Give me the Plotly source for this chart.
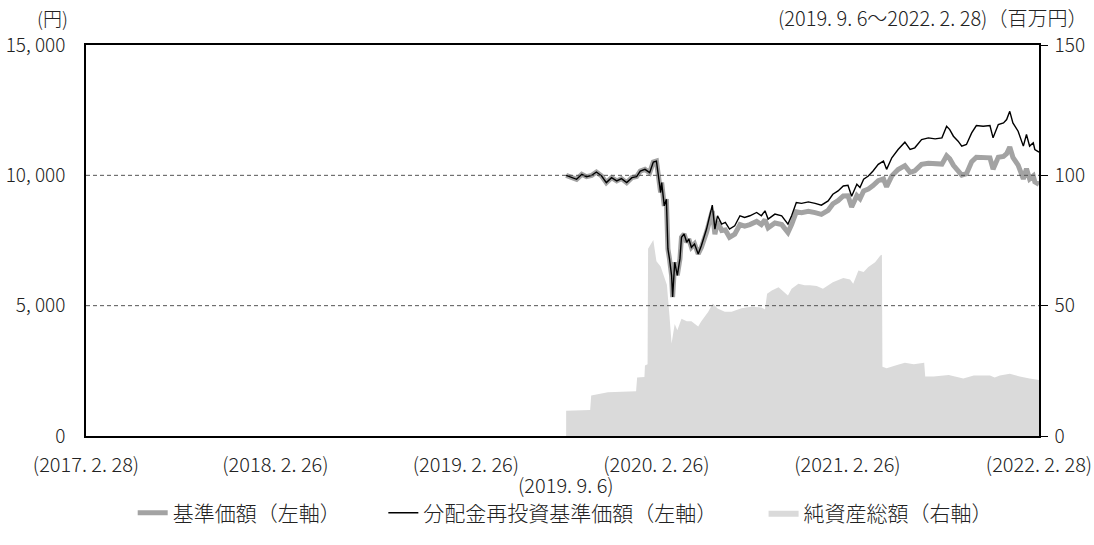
import plotly.graph_objects as go

# 基準価額 / 分配金再投資基準価額 (円)
nav_dates = [
    "2019-09-06", "2019-09-26", "2019-10-06", "2019-10-15", "2019-10-25", "2019-11-03",
    "2019-11-13", "2019-11-22", "2019-12-02", "2019-12-12", "2019-12-21", "2019-12-31",
    "2020-01-10", "2020-01-19", "2020-01-26", "2020-02-04", "2020-02-13", "2020-02-20",
    "2020-02-26", "2020-03-01", "2020-03-05", "2020-03-07", "2020-03-12", "2020-03-16",
    "2020-03-19", "2020-03-22", "2020-03-26", "2020-03-28", "2020-04-01", "2020-04-06",
    "2020-04-11", "2020-04-14", "2020-04-19", "2020-04-24", "2020-04-28", "2020-05-03",
    "2020-05-09", "2020-05-16", "2020-05-22", "2020-06-01", "2020-06-07", "2020-06-12",
    "2020-06-17", "2020-06-22", "2020-06-30", "2020-07-07", "2020-07-15", "2020-07-25",
    "2020-08-04", "2020-08-13", "2020-08-23", "2020-09-05", "2020-09-14", "2020-09-21",
    "2020-09-27", "2020-10-10", "2020-10-23", "2020-11-04", "2020-11-11", "2020-11-20",
    "2020-11-30", "2020-12-13", "2020-12-26", "2021-01-07", "2021-01-20", "2021-01-29",
    "2021-02-08", "2021-02-18", "2021-02-27", "2021-03-06", "2021-03-16", "2021-03-22",
    "2021-03-29", "2021-04-07", "2021-04-16", "2021-04-26", "2021-05-06", "2021-05-12",
    "2021-05-22", "2021-06-03", "2021-06-16", "2021-06-26", "2021-07-05", "2021-07-18",
    "2021-07-31", "2021-08-13", "2021-08-26", "2021-09-04", "2021-09-10", "2021-09-17",
    "2021-09-26", "2021-10-03", "2021-10-12", "2021-10-22", "2021-10-31", "2021-11-13",
    "2021-11-26", "2021-12-02", "2021-12-12", "2021-12-22", "2021-12-28", "2022-01-03",
    "2022-01-09", "2022-01-19", "2022-01-29", "2022-02-04", "2022-02-10", "2022-02-17",
    "2022-02-20", "2022-02-28",
]

nav_reinvested = [
    10000, 9848, 10039, 9950, 10000, 10127,
    9975, 9720, 9912, 9785, 9874, 9720,
    9912, 9950, 10165, 10229, 10102, 10508,
    10547, 9975, 9340, 9720, 8829, 9085,
    7176, 6794, 6158, 5332, 6667, 6158,
    6794, 7622, 7748, 7430, 7557, 7240,
    7367, 6985, 7302, 7939, 8448, 8855,
    7939, 8448, 8130, 8193, 7939, 8066,
    8448, 8384, 8448, 8575, 8448, 8638,
    8321, 8512, 8448, 8130, 8448, 8957,
    8925, 8982, 8925, 8855, 9020, 9275,
    9402, 9593, 9619, 9200, 9657, 9530,
    9848, 9975, 10165, 10420, 10547, 10229,
    10674, 10992, 11272, 10992, 11056, 11374,
    11438, 11400, 11438, 11883, 11756, 11501,
    11310, 11120, 11183, 11628, 11909, 11883,
    11909, 11438, 11947, 12012, 12138, 12456,
    12012, 11693, 11120, 11565, 11120, 11247,
    10992, 10890,
]

nav_base = [
    10000, 9848, 10039, 9950, 10000, 10127,
    9975, 9720, 9912, 9785, 9874, 9720,
    9912, 9950, 10165, 10229, 10102, 10508,
    10547, 9975, 9340, 9720, 8829, 9085,
    7176, 6794, 6158, 5332, 6667, 6158,
    6794, 7622, 7748, 7430, 7557, 7240,
    7367, 6985, 7229, 7820, 8237, 8634,
    7741, 8237, 7886, 7906, 7621, 7743,
    8110, 8049, 8110, 8232, 8110, 8292,
    7988, 8172, 8110, 7805, 8110, 8599,
    8568, 8623, 8568, 8501, 8659, 8904,
    9026, 9209, 9215, 8786, 9222, 9101,
    9405, 9476, 9606, 9795, 9861, 9564,
    9980, 10223, 10370, 10113, 10172, 10420,
    10466, 10431, 10431, 10754, 10639, 10385,
    10179, 10008, 10065, 10520, 10694, 10659,
    10670, 10237, 10693, 10727, 10827, 11086,
    10691, 10395, 9863, 10258, 9863, 9976,
    9750, 9660,
]

# 純資産総額 (百万円)
asset_dates = [
    "2019-09-06", "2019-10-22", "2019-10-24", "2019-11-25", "2020-01-18", "2020-01-20",
    "2020-02-03", "2020-02-04", "2020-02-09", "2020-02-10", "2020-02-20", "2020-02-26",
    "2020-03-05", "2020-03-12", "2020-03-17", "2020-03-22", "2020-03-26", "2020-04-01",
    "2020-04-06", "2020-04-14", "2020-04-24", "2020-05-03", "2020-05-16", "2020-05-22",
    "2020-06-04", "2020-06-13", "2020-06-22", "2020-07-06", "2020-07-19", "2020-08-07",
    "2020-08-26", "2020-09-14", "2020-09-21", "2020-09-25", "2020-10-04", "2020-10-17",
    "2020-10-29", "2020-11-04", "2020-11-11", "2020-11-24", "2020-12-06", "2020-12-16",
    "2020-12-29", "2021-01-10", "2021-01-29", "2021-02-18", "2021-03-03", "2021-03-09",
    "2021-03-19", "2021-03-29", "2021-04-07", "2021-04-20", "2021-04-30", "2021-05-03",
    "2021-05-04", "2021-05-12", "2021-06-01", "2021-06-16", "2021-07-03", "2021-07-23",
    "2021-07-25", "2021-08-10", "2021-09-08", "2021-10-06", "2021-10-26", "2021-11-26",
    "2021-12-05", "2021-12-15", "2022-01-03", "2022-01-22", "2022-02-10", "2022-02-28",
]

net_assets = [
    9.7, 10.0, 15.5, 16.8, 17.2, 22.4,
    22.6, 27.0, 27.5, 71.8, 75.2, 67.0,
    65.0, 61.0, 58.0, 46.0, 35.5, 43.0,
    40.6, 45.0, 44.0, 44.0, 42.0, 44.0,
    47.6, 50.8, 48.9, 47.7, 47.7, 49.0,
    49.6, 49.3, 48.5, 54.6, 55.8, 57.1,
    55.2, 53.9, 56.5, 58.4, 57.8, 57.8,
    57.5, 56.5, 59.0, 60.6, 60.0, 58.4,
    63.5, 62.9, 64.8, 66.7, 69.2, 69.5,
    26.6, 26.0, 27.2, 28.1, 27.5, 28.1,
    22.8, 22.8, 23.4, 22.1, 23.2, 23.2,
    22.4, 23.2, 23.9, 22.8, 22.1, 21.5,
]

yen_ticks = [0, 5000, 10000, 15000]
yen_tick_text = ["0", "5, 000", "10, 000", "15, 000"]
asset_ticks = [0, 50, 100, 150]
asset_tick_text = ["0", "50", "100", "150"]
x_range = ["2017-02-28", "2022-02-28"]
x_tick_dates = ["2017-02-28", "2018-02-26", "2019-02-26", "2020-02-26", "2021-02-26", "2022-02-28"]
x_tick_text = ["(2017. 2. 28)", "(2018. 2. 26)", "(2019. 2. 26)",
               "(2020. 2. 26)", "(2021. 2. 26)", "(2022. 2. 28)"]
start_date = "2019-09-06"
start_text = "(2019. 9. 6)"

FONT = "Noto Sans CJK JP"
TEXT = "#222222"
FS = 19
FS_X = 20
FS_LEGEND = 21


def font(size=FS):
    return dict(family=FONT, size=size, color=TEXT, weight=300)


fig = go.Figure()

# net assets: primary y axis (drawn on the right side, underneath the price lines)
fig.add_trace(go.Scatter(
    x=asset_dates, y=net_assets, name="純資産総額（右軸）",
    mode="lines", fill="tozeroy", fillcolor="#dadada",
    line=dict(width=0, color="#dadada"), yaxis="y", legend="legend3",
))
# price lines: overlaying y axis on the left side
fig.add_trace(go.Scatter(
    x=nav_dates, y=nav_base, name="基準価額（左軸）",
    mode="lines", line=dict(color="#a3a3a3", width=5), yaxis="y2", legend="legend",
))
fig.add_trace(go.Scatter(
    x=nav_dates, y=nav_reinvested, name="分配金再投資基準価額（左軸）",
    mode="lines", line=dict(color="#000000", width=1.4), yaxis="y2", legend="legend2",
))

# dashed reference lines at the inner yen ticks
for v in yen_ticks[1:-1]:
    fig.add_shape(type="line", xref="paper", x0=0, x1=1, yref="y2", y0=v, y1=v,
                  line=dict(color="#555555", width=1, dash="4px,3px"), layer="above")

legend_common = dict(orientation="h", yanchor="middle", y=-0.197, xanchor="left",
                     bgcolor="rgba(0,0,0,0)", font=font(FS_LEGEND),
                     itemclick=False, itemdoubleclick=False)

fig.update_layout(
    width=1094, height=545,
    margin=dict(l=86, r=55, t=45, b=107),
    paper_bgcolor="white", plot_bgcolor="white",
    font=font(),
    showlegend=True,
    legend=dict(x=0.049, **legend_common),
    legend2=dict(x=0.312, **legend_common),
    legend3=dict(x=0.711, **legend_common),
    xaxis=dict(
        type="date", range=x_range, tickvals=x_tick_dates, ticktext=x_tick_text,
        ticks="", showgrid=False, zeroline=False, showline=True, mirror=True,
        linecolor="#000000", linewidth=1.5, ticklabelstandoff=10,
        tickfont=font(FS_X), automargin=False,
    ),
    yaxis=dict(
        side="right", range=[0, 150], tickvals=asset_ticks, ticktext=asset_tick_text,
        ticks="outside", ticklen=7, tickwidth=1.2, tickcolor="#000000",
        showgrid=False, zeroline=False, showline=True, linecolor="#000000", linewidth=1.5,
        ticklabelstandoff=3, tickfont=font(), automargin=False,
    ),
    yaxis2=dict(
        overlaying="y", side="left", range=[0, 15000], tickvals=yen_ticks, ticktext=yen_tick_text,
        ticks="", showgrid=False, zeroline=False, showline=True, linecolor="#000000", linewidth=1.5,
        ticklabelstandoff=15, tickfont=font(), automargin=False,
    ),
)

fig.add_annotation(x=start_date, xref="x", y=-0.123, yref="paper", yanchor="middle",
                   text=start_text, showarrow=False, font=font(FS_X))
fig.add_annotation(x=-0.017, xref="paper", y=1.07, yref="paper", xanchor="right", yanchor="middle",
                   text="(円)", showarrow=False, font=font())
fig.add_annotation(x=1.0525, xref="paper", y=1.07, yref="paper", xanchor="right", yanchor="middle",
                   text="(2019. 9. 6～2022. 2. 28)（百万円）", showarrow=False, font=font(FS_X))

fig.write_html("out.html")
